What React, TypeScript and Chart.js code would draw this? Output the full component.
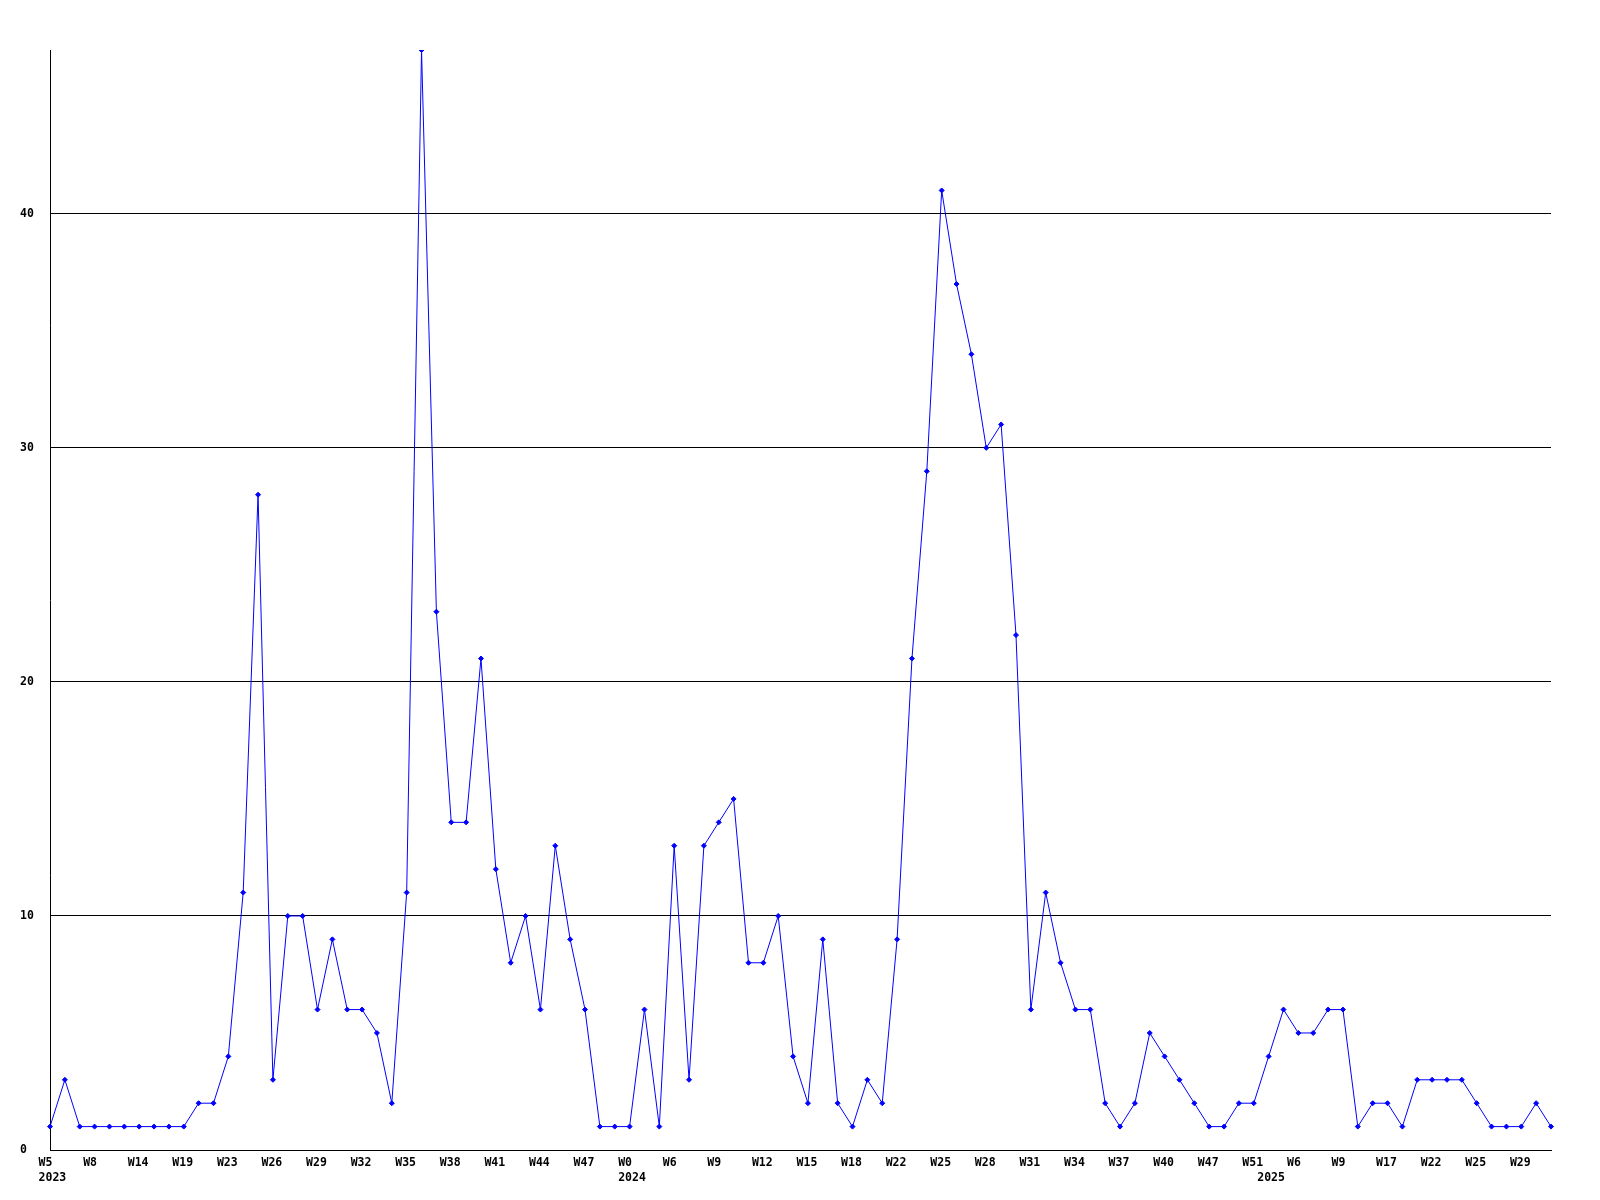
import React, { useEffect, useRef } from "react";
import { Chart, registerables } from "chart.js";

Chart.register(...registerables);

// Weekly counts, one per point (102 points)
const counts: number[] = [
  1, 3, 1, 1, 1, 1, 1, 1, 1, 1,
  2, 2, 4, 11, 28, 3, 10, 10, 6, 9,
  6, 6, 5, 2, 11, 47, 23, 14, 14, 21,
  12, 8, 10, 6, 13, 9, 6, 1, 1, 1,
  6, 1, 13, 3, 13, 14, 15, 8, 8, 10,
  4, 2, 9, 2, 1, 3, 2, 9, 21, 29,
  41, 37, 34, 30, 31, 22, 6, 11, 8, 6,
  6, 2, 1, 2, 5, 4, 3, 2, 1, 1,
  2, 2, 4, 6, 5, 5, 6, 6, 1, 2,
  2, 1, 3, 3, 3, 3, 2, 1, 1, 1,
  2, 1,
];

// Week tick labels shown on every third point
const weekTicks: string[] = [
  "W5", "W8", "W14", "W19", "W23", "W26", "W29", "W32", "W35", "W38",
  "W41", "W44", "W47", "W0", "W6", "W9", "W12", "W15", "W18", "W22",
  "W25", "W28", "W31", "W34", "W37", "W40", "W47", "W51", "W6", "W9",
  "W17", "W22", "W25", "W29",
];
const tickEvery = 3;

// Year labels and the point index where each year starts
const yearLabels: string[] = ["2023", "2024", "2025"];
const yearIndex: number[] = [0, 39, 82];

const yTicksMax = 47;

const categories: string[] = counts.map((_, i) =>
  i % tickEvery === 0 && weekTicks[i / tickEvery] !== undefined ? weekTicks[i / tickEvery] : ""
);

const tickFont = {
  family: "'DejaVu Sans Mono', 'Liberation Mono', monospace",
  size: 11.5,
  weight: "bold" as const,
  lineHeight: 1.3,
};

export default function App() {
  const ref = useRef<HTMLCanvasElement | null>(null);

  useEffect(() => {
    if (!ref.current) return;
    const chart = new Chart(ref.current, {
      type: "line",
      data: {
        labels: categories,
        datasets: [
          {
            data: counts,
            borderColor: "#0000ff",
            backgroundColor: "#0000ff",
            borderWidth: 1,
            tension: 0,
            fill: false,
            pointStyle: "rectRot",
            pointRadius: 2.5,
            pointBorderWidth: 1,
            pointBackgroundColor: "#0000ff",
            pointBorderColor: "#0000ff",
          },
        ],
      },
      options: {
        animation: false,
        responsive: false,
        devicePixelRatio: 1,
        layout: { padding: { left: 20, top: 50, right: 49, bottom: 0 } },
        plugins: {
          legend: { display: false },
          tooltip: { enabled: false },
        },
        scales: {
          x: {
            type: "category",
            grid: { display: false, drawTicks: false },
            border: { display: true, color: "#000000", width: 1 },
            ticks: {
              autoSkip: false,
              maxRotation: 0,
              minRotation: 0,
              align: "start",
              labelOffset: -11.4,
              padding: 6,
              color: "#000000",
              font: tickFont,
              callback: (_v: any, i: number) => {
                const w = categories[i] || "";
                const yi = yearIndex.indexOf(i);
                if (yi >= 0) return [w, yearLabels[yi]];
                return w;
              },
            },
            afterFit: (s: any) => {
              s.height = 50;
            },
          },
          y: {
            min: 0,
            max: yTicksMax,
            grid: { color: "#000000", lineWidth: 1, drawTicks: false },
            border: { display: true, color: "#000000", width: 1 },
            ticks: {
              stepSize: 10,
              includeBounds: false,
              crossAlign: "far",
              color: "#000000",
              font: tickFont,
            },
            afterFit: (s: any) => {
              s.width = 30;
            },
          },
        },
      },
    } as any);
    return () => chart.destroy();
  }, []);

  return (
    <div style={{ position: "absolute", left: 0, top: 0, width: 1600, height: 1200, background: "#ffffff" }}>
      <canvas ref={ref} width={1600} height={1200} style={{ width: 1600, height: 1200, display: "block" }} />
    </div>
  );
}
